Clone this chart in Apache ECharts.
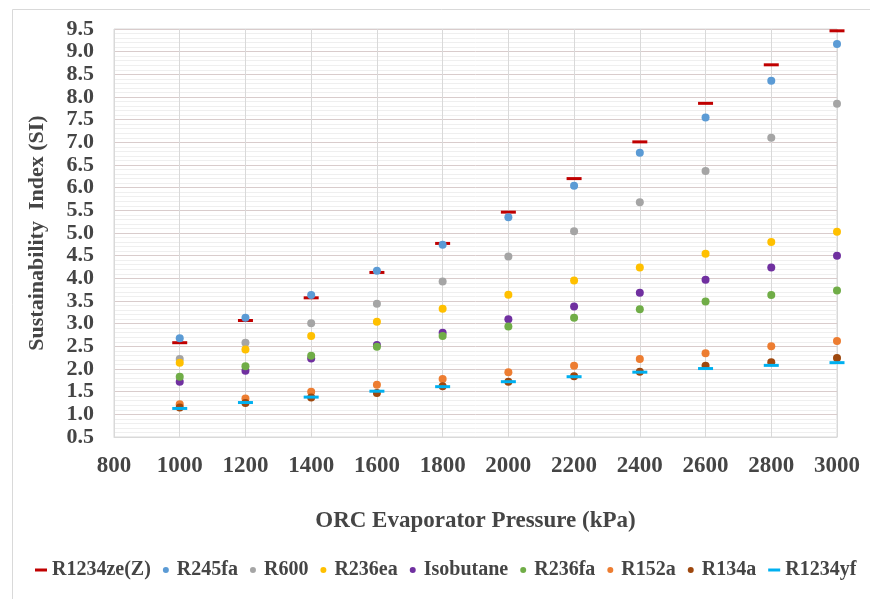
<!DOCTYPE html>
<html>
<head>
<meta charset="utf-8">
<script src="https://cdn.jsdelivr.net/npm/echarts@6/dist/echarts.min.js"></script>
<style>
html,body{margin:0;padding:0;background:#fff;}
#c{width:870px;height:599px;}
</style>
</head>
<body>
<div id="c"></div>
<script>
var pressures = [1000,1200,1400,1600,1800,2000,2200,2400,2600,2800,3000];
var R1234zeZ = [2.58,3.07,3.57,4.13,4.77,5.46,6.20,7.01,7.86,8.71,9.46];
var R245fa   = [2.68,3.13,3.63,4.17,4.74,5.35,6.04,6.77,7.55,8.36,9.17];
var R600     = [2.22,2.58,3.01,3.44,3.93,4.48,5.04,5.68,6.37,7.10,7.85];
var R236ea   = [2.14,2.43,2.73,3.04,3.33,3.64,3.95,4.24,4.54,4.80,5.03];
var Isobutane= [1.72,1.96,2.23,2.53,2.80,3.10,3.38,3.68,3.97,4.24,4.50];
var R236fa   = [1.83,2.06,2.29,2.49,2.73,2.94,3.13,3.32,3.49,3.63,3.73];
var R152a    = [1.22,1.35,1.50,1.65,1.78,1.93,2.07,2.22,2.35,2.50,2.62];
var R134a    = [1.15,1.25,1.37,1.47,1.62,1.72,1.84,1.94,2.07,2.15,2.24];
var R1234yf  = [1.13,1.26,1.38,1.51,1.61,1.72,1.83,1.93,2.01,2.08,2.14];

var seriesNames = ['R1234ze(Z)','R245fa','R600','R236ea','Isobutane','R236fa','R152a','R134a','R1234yf'];
var seriesData = [R1234zeZ,R245fa,R600,R236ea,Isobutane,R236fa,R152a,R134a,R1234yf];
var colors = ['#c00000','#5b9bd5','#a5a5a5','#ffc000','#7030a0','#70ad47','#ed7d31','#9e480e','#00b0f0'];
var isDash = [true,false,false,false,false,false,false,false,true];

var textColor = '#454545';
var fontFam = '"Liberation Serif","Times New Roman",serif';

function pairs(arr){ return arr.map(function(v,i){ return [pressures[i], v]; }); }

var series = seriesNames.map(function(n,i){
  return {
    name: n,
    type: 'scatter',
    data: pairs(seriesData[i]),
    symbol: isDash[i] ? 'rect' : 'circle',
    symbolSize: isDash[i] ? [15,3] : 8,
    itemStyle: {color: colors[i], opacity: 1},
    z: 2 + i
  };
});

var dashIcon = 'path://M0,0L12,0L12,3L0,3Z';
var legendData = seriesNames.map(function(n,i){
  return {name: n, icon: isDash[i] ? dashIcon : 'circle'};
});

var chart = echarts.init(document.getElementById('c'));
chart.setOption({
  backgroundColor: '#ffffff',
  animation: false,
  graphic: [{
    type: 'rect', left: 10, top: 7, silent: true, z: -10,
    shape: {width: 900, height: 620},
    style: {fill: 'none', stroke: '#d9d9d9', lineWidth: 1}
  }],
  grid: {left: 114, right: 33, top: 29, bottom: 162, show: true, borderColor: '#d9d9d9', borderWidth: 1},
  xAxis: {
    type: 'value', min: 800, max: 3000, interval: 200,
    name: 'ORC Evaporator Pressure (kPa)', nameLocation: 'middle', nameGap: 73,
    nameTextStyle: {fontFamily: fontFam, fontWeight: 'bold', fontSize: 23, color: textColor},
    axisLine: {show: true, lineStyle: {color: '#d9d9d9'}},
    axisTick: {show: false},
    axisLabel: {fontFamily: fontFam, fontWeight: 'bold', fontSize: 23, color: textColor, margin: 18,
      formatter: function(v){ return String(v); }},
    splitLine: {show: true, lineStyle: {color: '#d9d9d9', width: 1}}
  },
  yAxis: {
    type: 'value', min: 0.5, max: 9.5, interval: 0.5,
    name: 'Sustainability  Index (SI)', nameLocation: 'middle', nameGap: 66,
    nameTextStyle: {fontFamily: fontFam, fontWeight: 'bold', fontSize: 22, color: textColor},
    axisLine: {show: false},
    axisTick: {show: false},
    axisLabel: {fontFamily: fontFam, fontWeight: 'bold', fontSize: 22, color: textColor, margin: 20,
      formatter: function(v){ return v.toFixed(1); }},
    splitLine: {show: true, lineStyle: {color: '#d9cccc', width: 1}},
    minorTick: {show: false, splitNumber: 5},
    minorSplitLine: {show: true, lineStyle: {color: '#efefef', width: 1}}
  },
  legend: {
    data: legendData,
    bottom: 14, left: 30,
    itemWidth: 12, itemHeight: 6, itemGap: 12,
    textStyle: {fontFamily: fontFam, fontWeight: 'bold', fontSize: 20, color: textColor}
  },
  series: series
});
</script>
</body>
</html>
